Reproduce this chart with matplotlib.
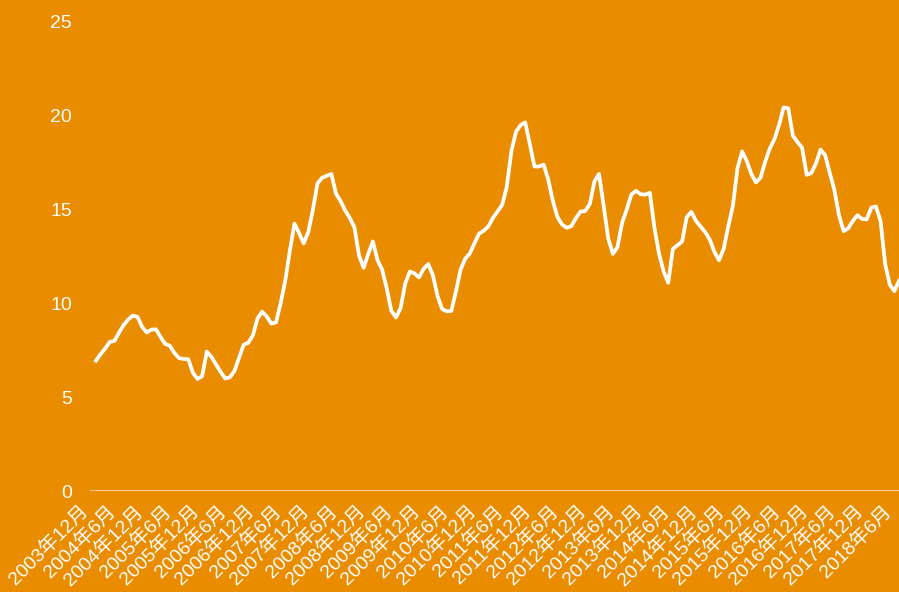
import numpy as np
import matplotlib
matplotlib.use('Agg')
import matplotlib.pyplot as plt
import matplotlib.transforms as mtransforms

# monthly values, 2003-12 .. 2018-06
values = [
    6.95, 7.3, 7.6, 7.95, 8.0, 8.45, 8.85, 9.15, 9.35, 9.28,
    8.75, 8.45, 8.6, 8.62, 8.2, 7.84, 7.74, 7.35, 7.08, 7.04,
    7.02, 6.3, 5.97, 6.12, 7.43, 7.15, 6.75, 6.35, 6.0, 6.06,
    6.4, 7.1, 7.8, 7.9, 8.3, 9.2, 9.56, 9.3, 8.92, 8.99,
    10.0, 11.2, 12.8, 14.25, 13.75, 13.2, 13.8, 15.0, 16.4, 16.7,
    16.8, 16.9, 15.85, 15.45, 14.95, 14.55, 14.05, 12.55, 11.9, 12.65,
    13.3, 12.3, 11.8, 10.8, 9.6, 9.25, 9.75, 11.05, 11.7, 11.6,
    11.38, 11.85, 12.1, 11.5, 10.4, 9.7, 9.58, 9.6, 10.65, 11.8,
    12.38, 12.66, 13.2, 13.72, 13.87, 14.1, 14.55, 14.9, 15.25, 16.2,
    18.1, 19.15, 19.5, 19.65, 18.5, 17.3, 17.3, 17.4, 16.6, 15.45,
    14.6, 14.2, 14.03, 14.12, 14.55, 14.9, 14.92, 15.3, 16.5, 16.9,
    15.2, 13.45, 12.64, 13.0, 14.3, 15.0, 15.8, 16.0, 15.82, 15.8,
    15.9, 14.05, 12.65, 11.7, 11.1, 12.9, 13.1, 13.3, 14.6, 14.88,
    14.4, 14.1, 13.8, 13.4, 12.75, 12.3, 12.9, 14.1, 15.2, 17.2,
    18.1, 17.6, 16.9, 16.45, 16.7, 17.55, 18.25, 18.75, 19.5, 20.45,
    20.4, 18.95, 18.6, 18.3, 16.85, 16.95, 17.45, 18.2, 17.9, 16.95,
    16.05, 14.7, 13.85, 14.0, 14.4, 14.7, 14.5, 14.48, 15.1, 15.17,
    14.4, 12.1, 11.0, 10.65, 11.2,
]

start_year, start_month = 2003, 12
month_labels = []
y, m = start_year, start_month
for _ in values:
    month_labels.append('{}年{}月'.format(y, m))
    m += 1
    if m > 12:
        m = 1
        y += 1

yticks = [0, 5, 10, 15, 20, 25]

bg = '#ea8c00'
plt.rcParams['font.family'] = ['Liberation Sans', 'Noto Sans CJK SC']

fig = plt.figure(figsize=(8.99, 5.92), dpi=100, facecolor=bg)
ax = fig.add_axes([90 / 899, (592 - 491) / 592, 1 - 90 / 899, (491 - 22) / 592])
ax.set_facecolor(bg)

x = np.arange(len(values))
ax.plot(x, values, color='white', lw=2.7, solid_joinstyle='round')
ax.axhline(0, color='#f3d6aa', lw=1.3, zorder=1)

ax.set_xlim(-1.3, len(values) - 1)
ax.set_ylim(0, 25)
ax.set_yticks(yticks)
ax.set_yticklabels([str(t) for t in yticks])

tick_idx = x[::6]
ax.set_xticks(tick_idx)
ax.set_xticklabels([month_labels[i] for i in tick_idx], rotation=45, ha='right')

ax.tick_params(axis='both', length=0, colors='white', labelsize=14)
ax.tick_params(axis='y', pad=13)
ax.tick_params(axis='x', pad=8)
offset = mtransforms.ScaledTranslation(-4 / 100, 0, fig.dpi_scale_trans)
for lab in ax.get_xticklabels():
    lab.set_transform(lab.get_transform() + offset)

for s in ax.spines.values():
    s.set_visible(False)

plt.savefig('out.png', dpi=100, facecolor=bg)
